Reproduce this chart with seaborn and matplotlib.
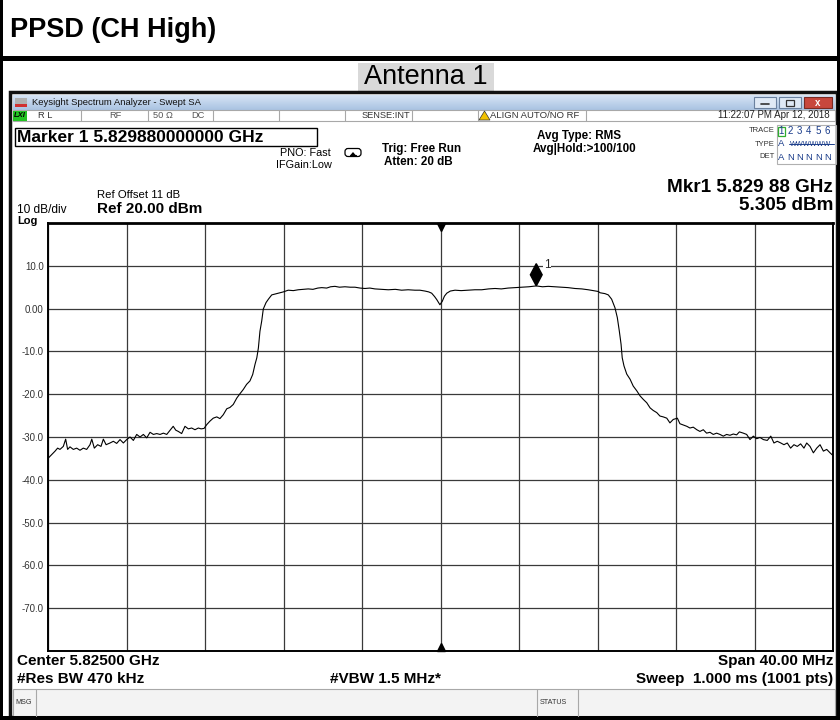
import matplotlib
matplotlib.use("Agg")
import numpy as np
import pandas as pd
import matplotlib.pyplot as plt
import seaborn as sns
from matplotlib.patches import Rectangle, Polygon, FancyBboxPatch
from matplotlib.colors import LinearSegmentedColormap

# ---------------- data ----------------
center_ghz = 5.825
span_mhz = 40.0
marker_mhz = 4.88          # 5.82988 GHz - 5.825 GHz
marker_dbm = 5.305
ytick_values = [10, 0, -10, -20, -30, -40, -50, -60, -70]
ytick_labels = ["10.0", "0.00", "-10.0", "-20.0", "-30.0", "-40.0", "-50.0", "-60.0", "-70.0"]
trace_numbers = ["1", "2", "3", "4", "5", "6"]
det_letters = ["N", "N", "N", "N", "N"]

freq_offset_mhz = [
    -19.98, -19.81, -19.64, -19.51, -19.39, -19.22, -19.10, -19.00, -18.88, -18.71,
    -18.54, -18.37, -18.20, -18.03, -17.86, -17.77, -17.64, -17.47, -17.30, -17.18,
    -17.04, -16.84, -16.67, -16.50, -16.33, -16.16, -15.99, -15.82, -15.65, -15.48,
    -15.31, -15.14, -14.97, -14.80, -14.63, -14.46, -14.29, -14.12, -13.95, -13.78,
    -13.62, -13.49, -13.36, -13.19, -13.02, -12.85, -12.68, -12.51, -12.34, -12.20,
    -12.05,
    -11.91, -11.75, -11.58, -11.40, -11.24, -11.07, -10.89, -10.73, -10.56, -10.38,
    -10.22, -10.05, -9.88, -9.71, -9.57, -9.45, -9.36, -9.28, -9.20, -9.11,
    -9.03, -8.89, -8.77, -8.60, -8.43, -8.27, -8.01, -7.76,
    -7.50, -7.25, -7.00, -6.74, -6.50, -6.25, -6.05, -5.80, -5.60, -5.38,
    -5.15, -4.87, -4.60, -4.36, -4.10, -3.85, -3.60, -3.34, -3.00, -2.66,
    -2.30, -1.98, -1.65, -1.30, -1.05, -0.79, -0.60, -0.45, -0.30, -0.19,
    -0.03, 0.09, 0.20, 0.32, 0.50, 0.74, 1.05, 1.42, 1.75, 2.10,
    2.45, 2.78, 3.10, 3.45, 3.80, 4.14, 4.50, 4.88, 5.20, 5.49,
    5.85, 6.18, 6.50, 6.85, 7.20, 7.53, 7.80, 8.04,
    8.13, 8.38, 8.55, 8.72, 8.89, 9.01, 9.11, 9.20, 9.26, 9.35,
    9.49, 9.66, 9.82, 10.00, 10.17, 10.33, 10.51, 10.68, 10.84, 11.02,
    11.18, 11.35, 11.53, 11.69, 11.86, 12.07,
    12.20, 12.37, 12.55, 12.71, 12.88, 13.06, 13.22, 13.39, 13.56, 13.73,
    13.90, 14.07, 14.24, 14.41, 14.58, 14.75, 14.92, 15.09, 15.23, 15.43,
    15.60, 15.77, 15.94, 16.11, 16.28, 16.45, 16.65, 16.83, 16.99, 17.16,
    17.34, 17.50, 17.67, 17.84, 18.01, 18.18, 18.35, 18.52, 18.66, 18.83,
    19.00, 19.17, 19.34, 19.51, 19.68, 19.85, 19.99,
]
level_dbm = [
    -34.9, -34.1, -33.3, -32.6, -32.9, -32.2, -30.5, -32.9, -32.3, -32.9,
    -32.6, -33.1, -32.6, -32.9, -31.8, -30.5, -32.6, -31.8, -32.2, -30.5,
    -31.8, -31.4, -31.0, -31.5, -30.6, -31.4, -30.6, -30.0, -30.8, -29.4,
    -30.0, -29.4, -30.2, -28.9, -29.4, -29.2, -29.4, -29.1, -29.4, -28.4,
    -27.5, -28.4, -28.7, -29.2, -27.5, -28.1, -27.9, -28.3, -27.9, -28.1,
    -28.0,
    -27.1, -26.3, -25.6, -25.3, -25.7, -24.8, -23.4, -23.1, -22.4, -20.9,
    -19.9, -18.9, -17.7, -16.9, -15.4, -13.0, -11.5, -9.2, -5.3, -2.9,
    -0.1, 1.4, 2.2, 3.2, 3.4, 3.6, 3.9, 4.3,
    4.2, 4.4, 4.5, 4.6, 4.5, 4.8, 4.9, 4.8, 5.1, 5.2,
    5.0, 5.1, 5.0, 5.0, 4.8, 4.7, 4.8, 4.6, 4.5, 4.4,
    4.5, 4.3, 4.4, 4.3, 4.3, 4.1, 3.9, 3.6, 2.8, 2.1,
    0.9, 1.7, 2.9, 3.6, 4.1, 4.3, 4.2, 4.3, 4.4, 4.4,
    4.6, 4.7, 4.6, 4.8, 4.9, 5.0, 5.1, 5.3, 5.1, 5.2,
    5.1, 5.0, 4.9, 4.7, 4.6, 4.4, 4.2, 4.0,
    3.7, 3.5, 3.2, 2.2, 0.2, -2.1, -5.2, -8.3, -11.5, -13.4,
    -15.3, -16.5, -18.1, -19.2, -20.4, -21.2, -22.0, -23.2, -23.8, -24.3,
    -25.1, -25.3, -25.6, -26.7, -25.9, -25.6,
    -26.9, -27.2, -27.5, -27.9, -27.7, -28.3, -28.7, -28.3, -29.1, -28.9,
    -29.4, -29.1, -29.4, -29.8, -29.4, -29.6, -29.3, -29.5, -28.8, -29.1,
    -29.4, -30.6, -29.8, -30.4, -30.1, -30.6, -30.8, -29.8, -31.4, -31.0,
    -31.4, -31.8, -31.4, -32.6, -31.8, -32.2, -31.6, -32.6, -31.4, -32.2,
    -33.7, -32.6, -31.8, -33.3, -32.9, -33.7, -34.3,
]

# ---------------- figure ----------------
sns.set_theme(style="white")
plt.rcParams['font.family'] = ['Liberation Sans', 'DejaVu Sans']

W, H = 840, 720
fig = plt.figure(figsize=(8.4, 7.2), dpi=100)
fig.patch.set_facecolor("white")

bg = fig.add_axes([0, 0, 1, 1])
bg.set_xlim(0, W)
bg.set_ylim(H, 0)
bg.axis("off")


def rect(x0, y0, x1, y1, fc, ec="none", lw=0.0, z=1):
    bg.add_patch(Rectangle((x0, y0), x1 - x0, y1 - y0, facecolor=fc,
                           edgecolor=ec, linewidth=lw, zorder=z))


def txt(x, y, s, size=8, weight="normal", ha="left", color="black", **kw):
    bg.text(x, y, s, fontsize=size, fontweight=weight, ha=ha, va="center",
            color=color, zorder=5, **kw)


# outer document frame
rect(0, 0, 3, H, "black", z=3)
rect(837, 0, W, H, "black", z=3)
rect(0, 56, W, 61, "black", z=3)
rect(0, 716, W, H, "black", z=3)

txt(10, 30, "PPSD (CH High)", size=19.5, weight="bold")
rect(358, 63, 494, 91, "#d9d9d9")
txt(426, 77, "Antenna 1", size=19.5, ha="center")

# screenshot window border
rect(10, 92, 837, 717, "white", ec="#111111", lw=2.5, z=1)

# title bar gradient
cmap_tb = LinearSegmentedColormap.from_list("tb", ["#d6e4f5", "#aac3e2"])
bg.imshow(np.linspace(0, 1, 30).reshape(-1, 1), extent=(13, 835, 110, 95),
          cmap=cmap_tb, aspect="auto", origin="upper", zorder=2)
rect(15, 98, 27, 107, "#b0b0b0", z=3)
rect(15, 104, 27, 107, "#d03030", z=3)
txt(32, 102.5, "Keysight Spectrum Analyzer - Swept SA", size=6.8, color="#111111")
rect(754, 97, 776, 108, "#dfe9f5", ec="#6a819f", lw=0.8, z=3)
bg.plot([761, 769], [104, 104], color="#333333", lw=1.2, zorder=4)
rect(779, 97, 801, 108, "#dfe9f5", ec="#6a819f", lw=0.8, z=3)
rect(786, 100, 794, 106, "none", ec="#333333", lw=0.9, z=4)
rect(804, 97, 832, 108, "#c8473d", ec="#7a2a22", lw=0.8, z=3)
txt(818, 102.5, "x", size=7, weight="bold", ha="center", color="white")

# status row
rect(13, 110, 835, 121, "white", ec="#a8a8a8", lw=0.8, z=2)
rect(13, 110.5, 27, 120.5, "#22c322", z=3)
txt(14, 115.5, "LXI", size=5.5, weight="bold", style="italic")
for xs in [81, 148, 213, 279, 345, 412, 478, 586]:
    bg.plot([xs, xs], [110, 121], color="#a8a8a8", lw=0.8, zorder=3)
txt(38, 115.5, "R L", size=6.7, color="#333333")
txt(109, 115.5, "RF", size=6.7, color="#555555")
txt(153, 115.5, "50 Ω", size=6.7, color="#555555")
txt(191, 115.5, "DC", size=6.7, color="#555555")
txt(410, 115.5, "SENSE:INT", size=6.7, ha="right", color="#333333")
bg.add_patch(Polygon([[479, 120], [490, 120], [484.5, 111]], closed=True,
                     facecolor="#f2c200", edgecolor="#333333", lw=0.5, zorder=4))
txt(490, 115.5, "ALIGN AUTO/NO RF", size=6.8, color="#333333")
txt(830, 115.5, "11:22:07 PM Apr 12, 2018", size=7, ha="right", color="#222222")

# annotation block
rect(15, 128, 317, 146, "white", ec="black", lw=1.0, z=2)
txt(17, 137, "Marker 1 5.829880000000 GHz", size=12.5, weight="bold")
txt(280, 153, "PNO: Fast", size=7.8)
txt(276, 165, "IFGain:Low", size=7.8)
bg.add_patch(FancyBboxPatch((345, 148.5), 16, 8, boxstyle="round,pad=0,rounding_size=3",
                            facecolor="white", edgecolor="black", lw=0.9, zorder=3))
bg.plot([350, 356], [155, 155], color="black", lw=0.8, zorder=4)
bg.add_patch(Polygon([[353, 152], [356, 155.5], [350, 155.5]], closed=True,
                     facecolor="black", lw=0, zorder=4))
txt(382, 149, "Trig: Free Run", size=8.4, weight="bold")
txt(384, 162, "Atten: 20 dB", size=8.4, weight="bold")
txt(537, 136, "Avg Type: RMS", size=8.4, weight="bold")
txt(533, 149, "Avg|Hold:>100/100", size=8.4, weight="bold")

txt(775, 131, "TRACE", size=5.5, ha="right", color="#333333")
txt(775, 144, "TYPE", size=5.5, ha="right", color="#333333")
txt(775, 157, "DET", size=5.5, ha="right", color="#333333")
rect(777, 125, 836, 164, "none", ec="#b0b0b0", lw=0.8, z=3)
rect(777.5, 126.5, 785, 136, "none", ec="#2fae2f", lw=0.9, z=4)
for i, t in enumerate(trace_numbers):
    txt(781 + i * 9.3, 131, t, size=7, ha="center", color="#1a3c8a")
txt(781, 144, "A", size=6.8, ha="center", color="#1a3c8a")
txt(811, 144, "WWWWWW", size=5.2, ha="center", color="#1a3c8a")
bg.plot([789, 834], [144, 144], color="#1a3c8a", lw=0.7, zorder=6)
txt(781, 157, "A", size=6.8, ha="center", color="#1a3c8a")
for i, t in enumerate(det_letters):
    txt(790.3 + i * 9.3, 157, t, size=6.8, ha="center", color="#1a3c8a")

txt(833, 188, "Mkr1 5.829 88 GHz", size=13.6, weight="bold", ha="right")
txt(833, 205, "5.305 dBm", size=13.6, weight="bold", ha="right")
txt(97, 195, "Ref Offset 11 dB", size=8.2)
txt(97, 209, "Ref 20.00 dBm", size=11, weight="bold")
txt(17, 210, "10 dB/div", size=8.6)
txt(17, 220.5, "Log", size=8, weight="bold")

# bottom annotations
txt(17, 661, "Center 5.82500 GHz", size=11, weight="bold")
txt(833, 661, "Span 40.00 MHz", size=11, weight="bold", ha="right")
txt(17, 679, "#Res BW 470 kHz", size=11, weight="bold")
txt(330, 679, "#VBW 1.5 MHz*", size=11, weight="bold")
txt(833, 679, "Sweep  1.000 ms (1001 pts)", size=11, weight="bold", ha="right")

rect(13, 689, 835, 716, "#f3f3f3", ec="#a8a8a8", lw=0.8, z=2)
for xs in [36, 537, 578]:
    bg.plot([xs, xs], [689, 716], color="#a8a8a8", lw=0.8, zorder=3)
txt(15, 703, "MSG", size=5.2, color="#333333")
txt(540, 703, "STATUS", size=5.2, color="#333333")

# ---------------- spectrum plot ----------------
x0, x1, y0, y1 = 48, 833, 223, 651
ax = fig.add_axes([x0 / W, 1 - y1 / H, (x1 - x0) / W, (y1 - y0) / H])
ax.set_facecolor("white")

df = pd.DataFrame({"freq": freq_offset_mhz, "level": level_dbm})
sns.lineplot(data=df, x="freq", y="level", ax=ax, color="black", linewidth=0.8,
             estimator=None, sort=False, legend=False, zorder=4)

half = span_mhz / 2
ax.set_xlim(-half, half)
ax.set_ylim(-80, 20)
ax.set_xticks(np.arange(-half, half + 0.1, span_mhz / 10))
ax.set_xticklabels([])
ax.set_yticks(ytick_values)
ax.set_yticklabels(ytick_labels)
ax.tick_params(axis="both", length=0)
ax.tick_params(axis="y", pad=3, labelsize=7, labelcolor="#333333")
ax.grid(True, color="#3a3a3a", linewidth=0.9)
ax.set_axisbelow(True)
ax.set_xlabel("")
ax.set_ylabel("")
for s in ax.spines.values():
    s.set_color("black")
    s.set_linewidth(1.4)
ax.spines["top"].set_linewidth(2.0)

# center-frequency indicators
ax.plot([0], [19.0], marker="v", markersize=6, color="black", clip_on=False, zorder=5)
ax.plot([0], [-79.0], marker="^", markersize=6, color="black", clip_on=False, zorder=5)

# marker 1 diamond (bottom tip sits on the marker level)
dw, dh = 0.30, 2.6
ax.add_patch(Polygon([[marker_mhz, marker_dbm], [marker_mhz + dw, marker_dbm + dh],
                      [marker_mhz, marker_dbm + 2 * dh], [marker_mhz - dw, marker_dbm + dh]],
                     closed=True, facecolor="black", edgecolor="black", zorder=6))
ax.text(marker_mhz + 0.4, 10.3, "1", fontsize=8.5, ha="left", va="center", zorder=6,
        bbox=dict(facecolor="white", edgecolor="none", pad=0.5))

fig.savefig("out.png", dpi=100, facecolor="white")
